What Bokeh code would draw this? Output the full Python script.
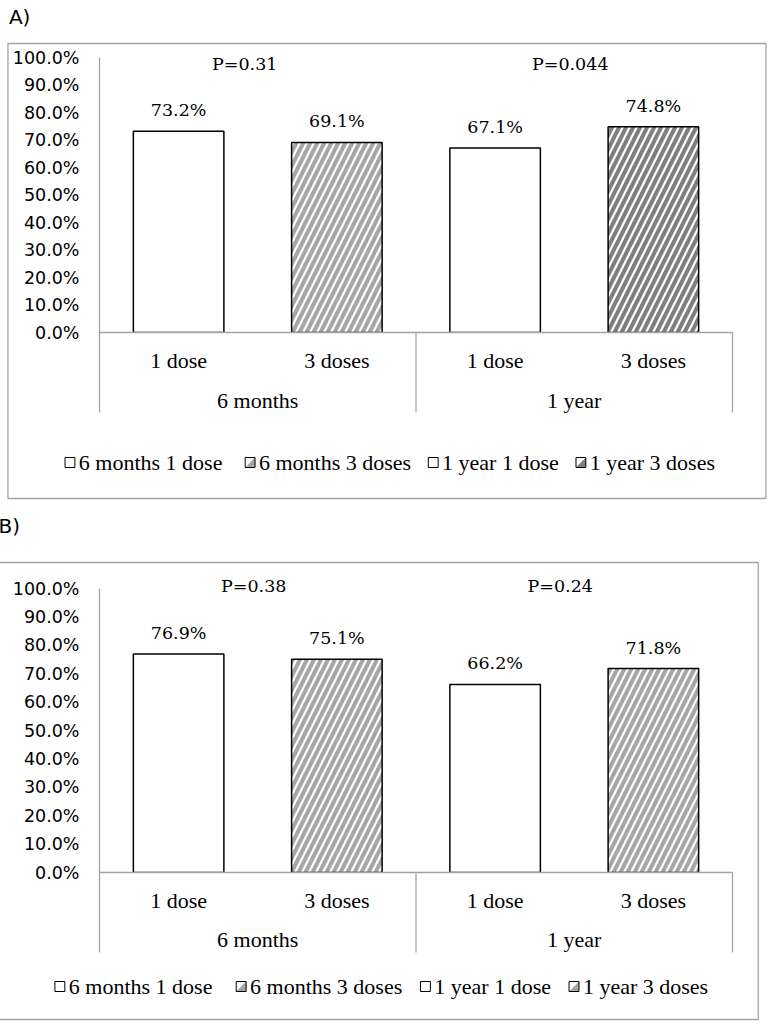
import numpy as np
from bokeh.plotting import figure
from bokeh.models import FactorRange, Range1d, FixedTicker, PrintfTickFormatter, ColumnDataSource
from bokeh.layouts import column
from bokeh.embed import file_html
from bokeh.resources import INLINE
from bokeh.core.properties import value

# ---------------- data ----------------
groups = ["6 months", "1 year"]
doses = ["1 dose", "3 doses"]
series_labels = ["6 months 1 dose", "6 months 3 doses", "1 year 1 dose", "1 year 3 doses"]
a_values = [73.2, 69.1, 67.1, 74.8]
b_values = [76.9, 75.1, 66.2, 71.8]
a_pvalues = ["P=0.31", "P=0.044"]
b_pvalues = ["P=0.38", "P=0.24"]
y_ticks = [0, 10, 20, 30, 40, 50, 60, 70, 80, 90, 100]
hatched = [False, True, False, True]

GRAY = "#a3a3a3"


def make_panel(tag, vals, pvals, hatch_colors, hatch_scale, g):
    W, H = g["W"], g["H"]
    fl, fr, ft, fb = g["frame"]
    factors = [(gr, d) for gr in groups for d in doses]
    xr = FactorRange(factors=factors, factor_padding=0, group_padding=0, range_padding=0)
    p = figure(width=W, height=H, x_range=xr, y_range=Range1d(0, 100),
               output_backend="svg", toolbar_location=None, x_axis_location=None,
               min_border_left=fl, min_border_right=W - fr,
               min_border_top=ft, min_border_bottom=H - fb,
               outline_line_color=None, border_fill_color="white",
               background_fill_color="white")
    p.grid.grid_line_color = None

    n = len(factors)

    def dx(px):
        return (px - fl) * n / (fr - fl)

    def dy(py):
        return (fb - py) * 100.0 / (fb - ft)

    # y axis
    ax = p.yaxis[0]
    ax.ticker = FixedTicker(ticks=y_ticks)
    ax.formatter = PrintfTickFormatter(format="%.1f%%")
    ax.major_label_text_font = "DejaVu Sans"
    ax.major_label_text_font_size = "17.5px"
    ax.major_label_text_color = "black"
    ax.major_tick_in = 0
    ax.major_tick_out = 0
    ax.minor_tick_in = 0
    ax.minor_tick_out = 0
    ax.major_label_standoff = 20
    ax.axis_line_color = GRAY
    ax.axis_line_width = 1.3

    # outer box
    bx0, bx1, by0, by1 = g["box"]
    p.quad(left=[dx(bx0)], right=[dx(bx1)], top=[dy(by0)], bottom=[dy(by1)],
           fill_color=None, line_color=GRAY, line_width=1.3, level="annotation")

    # category axis line and separators
    p.segment(x0=[0], y0=[0], x1=[n], y1=[0], line_color=GRAY, line_width=1.3,
              level="annotation")
    seps = [0, n / 2, n]
    p.segment(x0=seps, y0=[0] * 3, x1=seps, y1=[dy(g["sep_bottom"])] * 3,
              line_color=GRAY, line_width=1.3, level="annotation")

    # bars
    src = ColumnDataSource(dict(
        x=factors, top=vals,
        hatch=["/" if h else " " for h in hatched],
        hcolor=hatch_colors,
        label=[f"{v:.1f}%" for v in vals],
    ))
    p.vbar(x="x", top="top", bottom=0, width=0.572, source=src,
           fill_color="white", line_color="black", line_width=1.5,
           hatch_pattern="hatch", hatch_color="hcolor",
           hatch_scale=hatch_scale, hatch_weight=4)

    # data labels
    p.text(x="x", y="top", text="label", source=src, y_offset=-21,
           text_align="center", text_baseline="middle",
           text_font=value("DejaVu Serif"), text_font_size=value("17.5px"),
           text_color="black", level="annotation")

    # P values
    p.text(x=groups, y=[100, 100], text=pvals, x_offset=g["p_dx"], y_offset=g["p_dy"],
           text_align="center", text_baseline="middle",
           text_font=value("DejaVu Serif"), text_font_size=value("17.5px"),
           text_color="black", level="annotation")

    # category labels
    p.text(x=factors, y=[dy(g["sub_y"])] * n, text=[d for gr in groups for d in doses],
           text_align="center", text_baseline="middle",
           text_font=value("Liberation Serif"), text_font_size=value("22px"),
           text_color="black", level="annotation")
    p.text(x=groups, y=[dy(g["grp_y"])] * 2, text=groups,
           text_align="center", text_baseline="middle",
           text_font=value("Liberation Serif"), text_font_size=value("22px"),
           text_color="black", level="annotation")

    # panel tag
    p.text(x=[dx(g["tag"][0])], y=[dy(g["tag"][1])], text=[tag],
           text_align="left", text_baseline="middle",
           text_font=value("DejaVu Sans"), text_font_size=value("20px"),
           text_color="black", level="annotation")

    # legend (icons + labels)
    s = 10
    yc = g["leg_y"]
    icon_x = g["leg_icons"]
    p.quad(left=[dx(x) for x in icon_x], right=[dx(x + s) for x in icon_x],
           top=[dy(yc - s / 2)] * 4, bottom=[dy(yc + s / 2)] * 4,
           fill_color="white", line_color=None, level="annotation")
    for x, h, c in zip(icon_x, hatched, hatch_colors):
        if h:
            p.patch(x=[dx(x + s), dx(x + s), dx(x)],
                    y=[dy(yc - s / 2), dy(yc + s / 2), dy(yc + s / 2)],
                    fill_color=c, line_color=None, level="annotation")
    p.quad(left=[dx(x) for x in icon_x], right=[dx(x + s) for x in icon_x],
           top=[dy(yc - s / 2)] * 4, bottom=[dy(yc + s / 2)] * 4,
           fill_color=None, line_color="black", line_width=1, level="annotation")
    p.text(x=[dx(x + 14) for x in icon_x], y=[dy(yc)] * 4, text=series_labels,
           text_align="left", text_baseline="middle",
           text_font=value("Liberation Serif"), text_font_size=value("22px"),
           text_color="black", level="annotation")
    return p


icons = [62, 245, 431, 581]
geo_a = dict(W=778, H=510, frame=(97, 740, 57, 332), box=(4, 774, 43, 498),
             sep_bottom=412, sub_y=360, grp_y=400, leg_y=462, leg_icons=icons,
             tag=(5, 16), p_dx=[-13, -4], p_dy=[6, 6])
geo_b = dict(W=778, H=515, frame=(107, 746, 78, 362), box=(4, 772, 52, 509),
             sep_bottom=442, sub_y=390, grp_y=429, leg_y=476, leg_icons=icons,
             tag=(5, 15), p_dx=[-4, -14], p_dy=[-3, -3])

pa = make_panel("A)", a_values, a_pvalues, ["#a6a6a6", "#a6a6a6", "#7f7f7f", "#7f7f7f"], 14, geo_a)
pb = make_panel("B)", b_values, b_pvalues, ["#a6a6a6", "#a6a6a6", "#a6a6a6", "#a6a6a6"], 14, geo_b)

layout = column(pa, pb, spacing=0, margin=(0, 0, 0, -8))

open("out.html", "w").write(file_html(layout, INLINE))
